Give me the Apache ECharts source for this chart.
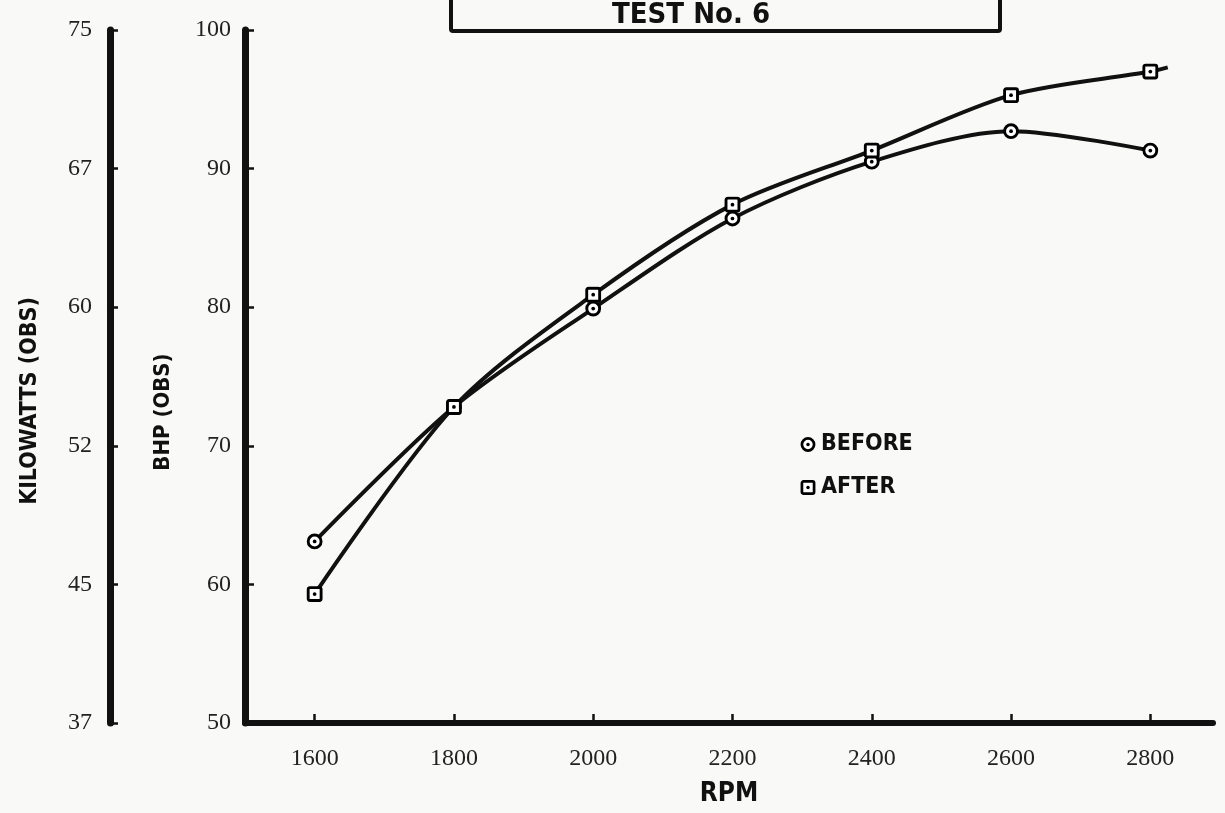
<!DOCTYPE html>
<html>
<head>
<meta charset="utf-8">
<script src="https://cdn.jsdelivr.net/npm/echarts@6/dist/echarts.min.js"></script>
<style>
html,body{margin:0;padding:0;background:#f9f9f7;}
#chart{width:1225px;height:813px;}
</style>
</head>
<body>
<div id="chart"></div>
<script>
// ---- data ----
const rpm = [1600, 1800, 2000, 2200, 2400, 2600, 2800];
const bhpBefore = [63.1, 72.8, 79.9, 86.4, 90.5, 92.7, 91.3];
const bhpAfter = [59.3, 72.8, 80.9, 87.4, 91.3, 95.3, 97.0];
const afterTailRpm = 2825;      // line continues a little past last marker
const afterTailBhp = 97.3;
const bhpTicks = [50, 60, 70, 80, 90, 100];
const kwTickLabels = ['37', '45', '52', '60', '67', '75'];
const rpmTicks = [1600, 1800, 2000, 2200, 2400, 2600, 2800];
const titleText = 'TEST No. 6';
const seriesNames = ['BEFORE', 'AFTER'];
const xTitle = 'RPM';
const yTitle = 'BHP (OBS)';
const y2Title = 'KILOWATTS (OBS)';

function svgUri(svg) {
  return 'image://data:image/svg+xml;charset=utf-8,' + encodeURIComponent(svg);
}
const circleSym = svgUri("<svg xmlns='http://www.w3.org/2000/svg' width='20' height='20'><circle cx='10' cy='10' r='7.6' fill='white' stroke='black' stroke-width='3.4'/><circle cx='10' cy='10' r='2.2' fill='black'/></svg>");
const squareSym = svgUri("<svg xmlns='http://www.w3.org/2000/svg' width='20' height='20'><rect x='2.4' y='2.4' width='15.2' height='15.2' rx='2' fill='white' stroke='black' stroke-width='3.4'/><circle cx='10' cy='10' r='2.2' fill='black'/></svg>");

const beforeData = rpm.map((r, i) => [r, bhpBefore[i]]);
const afterData = rpm.map((r, i) => [r, bhpAfter[i]]);
afterData.push({ value: [afterTailRpm, afterTailBhp], symbol: 'none' });

const chart = echarts.init(document.getElementById('chart'));
const numFont = 'Liberation Serif';
const boldFont = 'DejaVu Sans Condensed';
const ink = '#111';

chart.setOption({
  backgroundColor: '#f9f9f7',
  animation: false,
  grid: { left: 245, right: 12, top: 30, bottom: 90 },
  legend: {
    orient: 'vertical',
    left: 795,
    top: 428,
    itemGap: 20,
    itemWidth: 16,
    itemHeight: 16,
    textStyle: { fontFamily: boldFont, fontWeight: 'bold', fontSize: 23, color: ink },
    data: [
      { name: seriesNames[0], icon: circleSym },
      { name: seriesNames[1], icon: squareSym }
    ]
  },
  graphic: [
    {
      type: 'rect',
      shape: { x: 451, y: -20, width: 549, height: 51, r: 2 },
      style: { fill: 'none', stroke: ink, lineWidth: 4 }
    },
    {
      type: 'text',
      x: 691, y: 15,
      style: {
        text: titleText, fill: ink, fontFamily: boldFont, fontWeight: 'bold',
        fontSize: 29, align: 'center', verticalAlign: 'middle'
      }
    },
    {
      type: 'text',
      x: 30, y: 401, rotation: Math.PI / 2,
      style: {
        text: y2Title, fill: ink, fontFamily: boldFont, fontWeight: 'bold',
        fontSize: 23, align: 'center', verticalAlign: 'middle'
      }
    },
    {
      type: 'text',
      x: 163, y: 412, rotation: Math.PI / 2,
      style: {
        text: yTitle, fill: ink, fontFamily: boldFont, fontWeight: 'bold',
        fontSize: 22, align: 'center', verticalAlign: 'middle'
      }
    }
  ],
  xAxis: {
    type: 'value',
    min: 1500,
    max: 2890,
    name: xTitle,
    nameLocation: 'middle',
    nameGap: 58,
    nameTextStyle: { fontFamily: boldFont, fontWeight: 'bold', fontSize: 26, color: ink },
    axisLine: { onZero: false, lineStyle: { color: ink, width: 6 } },
    axisTick: { inside: true, length: 9, customValues: rpmTicks, lineStyle: { color: ink, width: 2.5 } },
    axisLabel: { customValues: rpmTicks, margin: 24, fontFamily: numFont, fontSize: 24, color: '#222', formatter: v => String(v) },
    splitLine: { show: false }
  },
  yAxis: [
    {
      type: 'value',
      min: 50, max: 100, interval: 10,
      position: 'left',
      axisLine: { show: true, lineStyle: { color: ink, width: 7 } },
      axisTick: { show: true, inside: true, length: 9, lineStyle: { color: ink, width: 2.5 } },
      axisLabel: { margin: 14, fontFamily: numFont, fontSize: 24, color: '#222', formatter: v => String(v) },
      splitLine: { show: false }
    },
    {
      type: 'value',
      min: 50, max: 100, interval: 10,
      position: 'left',
      offset: 135,
      axisLine: { show: true, lineStyle: { color: ink, width: 7 } },
      axisTick: { show: true, inside: true, length: 8, lineStyle: { color: ink, width: 2.5 } },
      axisLabel: {
        margin: 18, fontFamily: numFont, fontSize: 24, color: '#222',
        formatter: v => kwTickLabels[bhpTicks.indexOf(v)]
      },
      splitLine: { show: false }
    }
  ],
  series: [
    {
      name: seriesNames[0],
      type: 'line',
      data: beforeData,
      smooth: 0.3,
      symbol: circleSym,
      symbolSize: 17,
      lineStyle: { color: ink, width: 4 },
      itemStyle: { color: ink },
      z: 3
    },
    {
      name: seriesNames[1],
      type: 'line',
      data: afterData,
      smooth: 0.3,
      symbol: squareSym,
      symbolSize: 17,
      lineStyle: { color: ink, width: 4 },
      itemStyle: { color: ink },
      z: 3
    }
  ]
});
</script>
</body>
</html>
